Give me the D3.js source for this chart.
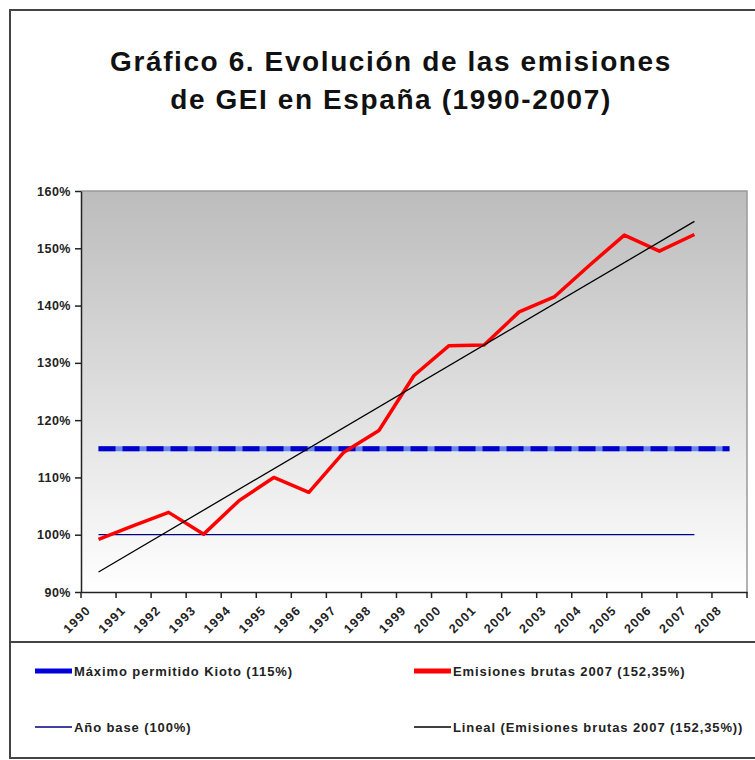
<!DOCTYPE html>
<html>
<head>
<meta charset="utf-8">
<script src="https://cdn.jsdelivr.net/npm/d3@7"></script>
<style>
    body { margin: 0; background: #fff; }
    svg { display: block; font-family: Arial, "Liberation Sans", sans-serif; }
</style>
</head>
<body>
<div id="chart"></div>
<script>
// Categories (x axis) and y ticks
const years = [1990, 1991, 1992, 1993, 1994, 1995, 1996, 1997, 1998, 1999,
    2000, 2001, 2002, 2003, 2004, 2005, 2006, 2007, 2008];
const yTicks = [90, 100, 110, 120, 130, 140, 150, 160];

// Emisiones brutas (% of base year)
const emissionYears = [1990, 1991, 1992, 1993, 1994, 1995, 1996, 1997, 1998,
    1999, 2000, 2001, 2002, 2003, 2004, 2005, 2006, 2007];
const emissionValues = [99.2, 101.6, 103.9, 100.1, 105.9, 110.0, 107.4, 114.4, 118.2,
    127.8, 133.0, 133.1, 138.9, 141.5, 147.0, 152.3, 149.5, 152.4];

// Reference lines
const kiotoYears = [1990, 2008];
const kiotoValues = [115, 115];
const baseYears = [1990, 2007];
const baseValues = [100, 100];

// Linear trend, end points
const trendYears = [1990, 2007];
const trendValues = [93.5, 154.7];

const legendItems = [
    { label: "Máximo permitido Kioto (115%)", color: "#0000dd", width: 5 },
    { label: "Emisiones brutas 2007 (152,35%)", color: "#ff0000", width: 5 },
    { label: "Año base (100%)", color: "#000080", width: 1.5 },
    { label: "Lineal (Emisiones brutas 2007 (152,35%))", color: "#000000", width: 1.5 }
];

const W = 755, H = 760;
const plot = { left: 81, right: 747, top: 191, bottom: 592 };

const svg = d3.select("#chart").append("svg")
    .attr("width", W)
    .attr("height", H);

// Outer frame
svg.append("rect")
    .attr("x", 10).attr("y", 10)
    .attr("width", W).attr("height", 748)
    .attr("fill", "none")
    .attr("stroke", "#444")
    .attr("stroke-width", 2);

// Title
const title = svg.append("text")
    .attr("text-anchor", "middle")
    .attr("font-size", 28)
    .attr("font-weight", "bold")
    .attr("letter-spacing", 1.6)
    .attr("fill", "#111");
title.append("tspan").attr("x", 391).attr("y", 71).text("Gráfico 6. Evolución de las emisiones");
title.append("tspan").attr("x", 391).attr("y", 109).text("de GEI en España (1990-2007)");

const x = d3.scaleBand()
    .domain(years)
    .range([plot.left, plot.right]);
const cx = d => x(d) + x.bandwidth() / 2;

const y = d3.scaleLinear()
    .domain([90, 160])
    .range([plot.bottom, plot.top]);

// Plot background gradient
const grad = svg.append("defs").append("linearGradient")
    .attr("id", "bg")
    .attr("x1", 0).attr("y1", 0).attr("x2", 0).attr("y2", 1);
grad.append("stop").attr("offset", "0%").attr("stop-color", "#bcbcbc");
grad.append("stop").attr("offset", "100%").attr("stop-color", "#ffffff");

svg.append("rect")
    .attr("x", plot.left).attr("y", plot.top)
    .attr("width", plot.right - plot.left)
    .attr("height", plot.bottom - plot.top)
    .attr("fill", "url(#bg)");

// Top and right border of plot
svg.append("path")
    .attr("d", `M${plot.left},${plot.top}H${plot.right}V${plot.bottom}`)
    .attr("fill", "none")
    .attr("stroke", "#999")
    .attr("stroke-width", 1.5);

// Y axis
const yAxis = svg.append("g")
    .attr("transform", `translate(${plot.left},0)`)
    .call(d3.axisLeft(y).tickValues(yTicks).tickFormat(d => d + "%").tickSize(6).tickSizeOuter(0));
yAxis.select(".domain").attr("stroke", "#222").attr("stroke-width", 1.5);
yAxis.selectAll(".tick line").attr("stroke", "#222").attr("stroke-width", 1.5);
yAxis.selectAll(".tick text")
    .attr("x", -10)
    .attr("font-size", 12.5)
    .attr("font-weight", "bold")
    .attr("letter-spacing", 0.5)
    .attr("font-family", "Arial, 'Liberation Sans', sans-serif")
    .attr("fill", "#222");

// X axis: labels at band centres, tick marks at band edges
const xAxis = svg.append("g")
    .attr("transform", `translate(0,${plot.bottom})`)
    .call(d3.axisBottom(x).tickSize(0).tickSizeOuter(0));
xAxis.select(".domain").attr("stroke", "#222").attr("stroke-width", 1.5);
xAxis.selectAll(".tick").append("line")
    .attr("x1", -x.bandwidth() / 2).attr("x2", -x.bandwidth() / 2)
    .attr("y1", 0).attr("y2", 6)
    .attr("stroke", "#222").attr("stroke-width", 1.5);
xAxis.append("line")
    .attr("x1", plot.right).attr("x2", plot.right)
    .attr("y1", 0).attr("y2", 6)
    .attr("stroke", "#222").attr("stroke-width", 1.5);
xAxis.selectAll(".tick text")
    .attr("y", 0).attr("dy", 0)
    .attr("text-anchor", "end")
    .attr("transform", "translate(-7,19) rotate(-45)")
    .attr("font-size", 12.5)
    .attr("font-weight", "bold")
    .attr("letter-spacing", 1.2)
    .attr("font-family", "Arial, 'Liberation Sans', sans-serif")
    .attr("fill", "#222");

const line = d3.line()
    .x(d => cx(d[0]))
    .y(d => y(d[1]));

// Año base
svg.append("path")
    .datum(d3.zip(baseYears, baseValues))
    .attr("d", line)
    .attr("fill", "none")
    .attr("stroke", "#000080")
    .attr("stroke-width", 1.2);

// Kioto limit: light blue under dark blue dashes
svg.append("path")
    .datum(d3.zip(kiotoYears, kiotoValues))
    .attr("d", line)
    .attr("fill", "none")
    .attr("stroke", "#6688f0")
    .attr("stroke-width", 5);
svg.append("path")
    .datum(d3.zip(kiotoYears, kiotoValues))
    .attr("d", line)
    .attr("fill", "none")
    .attr("stroke", "#0000cc")
    .attr("stroke-width", 5)
    .attr("stroke-dasharray", "17,7");

// Emisiones brutas
svg.append("path")
    .datum(d3.zip(emissionYears, emissionValues))
    .attr("d", line)
    .attr("fill", "none")
    .attr("stroke", "#ff0000")
    .attr("stroke-width", 3.5)
    .attr("stroke-linejoin", "round");

// Lineal trend
svg.append("path")
    .datum(d3.zip(trendYears, trendValues))
    .attr("d", line)
    .attr("fill", "none")
    .attr("stroke", "#000")
    .attr("stroke-width", 1.3);

// Legend separator
svg.append("line")
    .attr("x1", 10).attr("x2", W)
    .attr("y1", 642).attr("y2", 642)
    .attr("stroke", "#444")
    .attr("stroke-width", 2);

// Legend
const legend = svg.append("g")
    .selectAll("g")
    .data(legendItems)
    .join("g")
    .attr("transform", (d, i) => `translate(${i % 2 === 0 ? 35 : 414},${i < 2 ? 671 : 727})`);

legend.append("line")
    .attr("x1", 0).attr("x2", 37)
    .attr("y1", 0).attr("y2", 0)
    .attr("stroke", d => d.color)
    .attr("stroke-width", d => d.width);

legend.append("text")
    .attr("x", 39)
    .attr("dy", "0.35em")
    .attr("font-size", 13)
    .attr("font-weight", "bold")
    .attr("letter-spacing", 0.9)
    .attr("fill", "#222")
    .text(d => d.label);
</script>
</body>
</html>
